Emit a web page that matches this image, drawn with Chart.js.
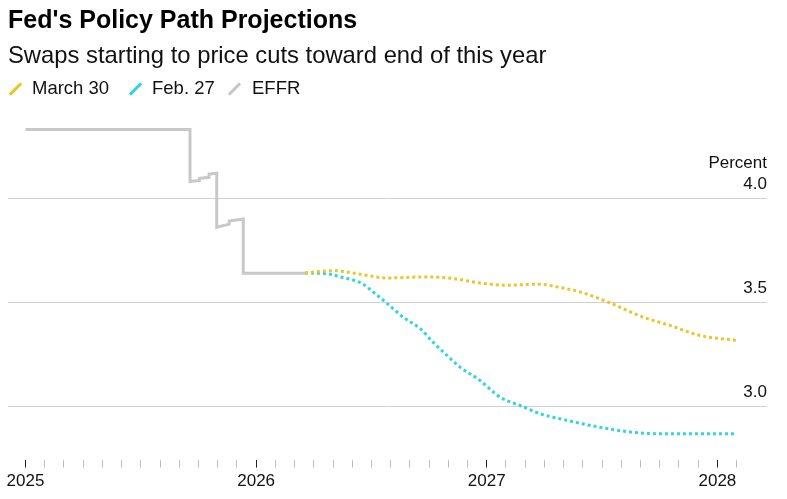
<!DOCTYPE html>
<html>
<head>
<meta charset="utf-8">
<script src="https://cdn.jsdelivr.net/npm/chart.js@4"></script>
<style>
  html, body { margin: 0; padding: 0; background: #fff; }
  body { font-family: 'Liberation Sans', Arial, sans-serif; color: #111; }
  #wrap { position: relative; width: 787px; height: 499px; overflow: hidden; }
  #grafico { position: absolute; left: 0; top: 0; }
  .titulo { position: absolute; left: 8px; top: 7px; font-size: 25px; line-height: 1; font-weight: bold; color: #000; white-space: nowrap; }
  .subtitulo { position: absolute; left: 8px; top: 43px; font-size: 23.8px; line-height: 1; color: #111; white-space: nowrap; }
  .leyenda { position: absolute; top: 79px; font-size: 18.5px; line-height: 1; color: #111; white-space: nowrap; }
  .barra { position: absolute; top: 81px; width: 3px; height: 16px; transform: rotate(45deg); }
</style>
</head>
<body>
<div id="wrap">
  <canvas id="grafico" width="787" height="499"></canvas>
  <div class="titulo">Fed's Policy Path Projections</div>
  <div class="subtitulo">Swaps starting to price cuts toward end of this year</div>
  <span class="barra" style="left:14px;background:#ecc52a"></span>
  <span class="leyenda" style="left:32px">March 30</span>
  <span class="barra" style="left:134px;background:#33d6d8"></span>
  <span class="leyenda" style="left:152px">Feb. 27</span>
  <span class="barra" style="left:233px;background:#c8c8c8"></span>
  <span class="leyenda" style="left:252px">EFFR</span>
</div>
<script>
// x = months since Jan 2025
const yearLabels = ['2025', '2026', '2027', '2028'];
const lastTickMonth = 37;

const effrMonths = [0, 8.56, 8.56, 9.05, 9.05, 9.55, 9.55, 9.95, 9.95, 10.6, 10.6, 11.33, 11.33, 14.54];
const effrValues = [4.33, 4.33, 4.08, 4.085, 4.095, 4.10, 4.115, 4.12, 3.86, 3.875, 3.89, 3.90, 3.64, 3.64];

const marchMonths = [14.54, 16.0, 17.14, 18.81, 20.89, 22.24, 23.65, 25.05, 26.77, 27.65, 28.85, 30.41, 32.13, 33.53, 35.09, 37.02];
const marchValues = [3.641, 3.652, 3.639, 3.617, 3.622, 3.614, 3.593, 3.582, 3.587, 3.574, 3.55, 3.497, 3.429, 3.389, 3.341, 3.317];

const febMonths = [14.54, 15.84, 16.36, 17.5, 18.08, 18.81, 19.64, 20.52, 21.2, 21.93, 22.61, 23.65, 24.69, 25.73, 26.77, 27.81, 29.89, 31.61, 33.01, 37.02];
const febValues = [3.641, 3.635, 3.622, 3.591, 3.55, 3.495, 3.429, 3.375, 3.309, 3.245, 3.189, 3.125, 3.045, 3.005, 2.965, 2.941, 2.9, 2.876, 2.869, 2.869];

const COLORES = {
  marzo: '#ecc52a',
  febrero: '#33d6d8',
  effr: '#c8c8c8',
  grilla: '#d0d0d0'
};

function puntos(meses, valores) {
  return meses.map((m, i) => ({ x: m, y: valores[i] }));
}

Chart.defaults.font.family = "'Liberation Sans', Arial, sans-serif";
Chart.defaults.color = '#111';

new Chart(document.getElementById('grafico'), {
  type: 'line',
  data: {
    datasets: [
      {
        label: 'March 30',
        data: puntos(marchMonths, marchValues),
        borderColor: COLORES.marzo,
        borderWidth: 3,
        borderDash: [3, 3],
        pointRadius: 0,
        cubicInterpolationMode: 'monotone'
      },
      {
        label: 'Feb. 27',
        data: puntos(febMonths, febValues),
        borderColor: COLORES.febrero,
        borderWidth: 3,
        borderDash: [3, 3],
        pointRadius: 0,
        cubicInterpolationMode: 'monotone'
      },
      {
        label: 'EFFR',
        data: puntos(effrMonths, effrValues),
        borderColor: COLORES.effr,
        borderWidth: 3,
        pointRadius: 0,
        tension: 0
      }
    ]
  },
  options: {
    responsive: false,
    animation: false,
    layout: { padding: { top: 120, left: 8, right: 20, bottom: 3 } },
    plugins: {
      legend: { display: false },
      tooltip: { enabled: false }
    },
    scales: {
      x: {
        type: 'linear',
        min: -0.91,
        max: 38.58,
        border: { display: false },
        grid: {
          drawOnChartArea: false,
          drawTicks: true,
          tickLength: 8,
          tickColor: (ctx) => (ctx.tick && ctx.tick.value % 12 === 0 ? '#222' : '#bdbdbd')
        },
        afterBuildTicks: (scale) => {
          scale.ticks = scale.ticks.filter((t) => t.value >= 0 && t.value <= lastTickMonth);
        },
        ticks: {
          stepSize: 1,
          includeBounds: false,
          autoSkip: false,
          maxRotation: 0,
          padding: 4,
          font: { size: 17 },
          color: '#111',
          callback: (v) => (v % 12 === 0 ? yearLabels[v / 12] : '')
        }
      },
      y: {
        position: 'right',
        min: 2.745,
        max: 4.375,
        border: { display: false },
        grid: { color: COLORES.grilla, lineWidth: 1, drawTicks: false },
        ticks: {
          stepSize: 0.5,
          includeBounds: false,
          mirror: true,
          padding: 0,
          labelOffset: -14,
          font: { size: 17 },
          color: '#111',
          callback: (v) => (v === 4 ? ['Percent', '4.0', ''] : v.toFixed(1))
        }
      }
    }
  }
});
</script>
</body>
</html>
